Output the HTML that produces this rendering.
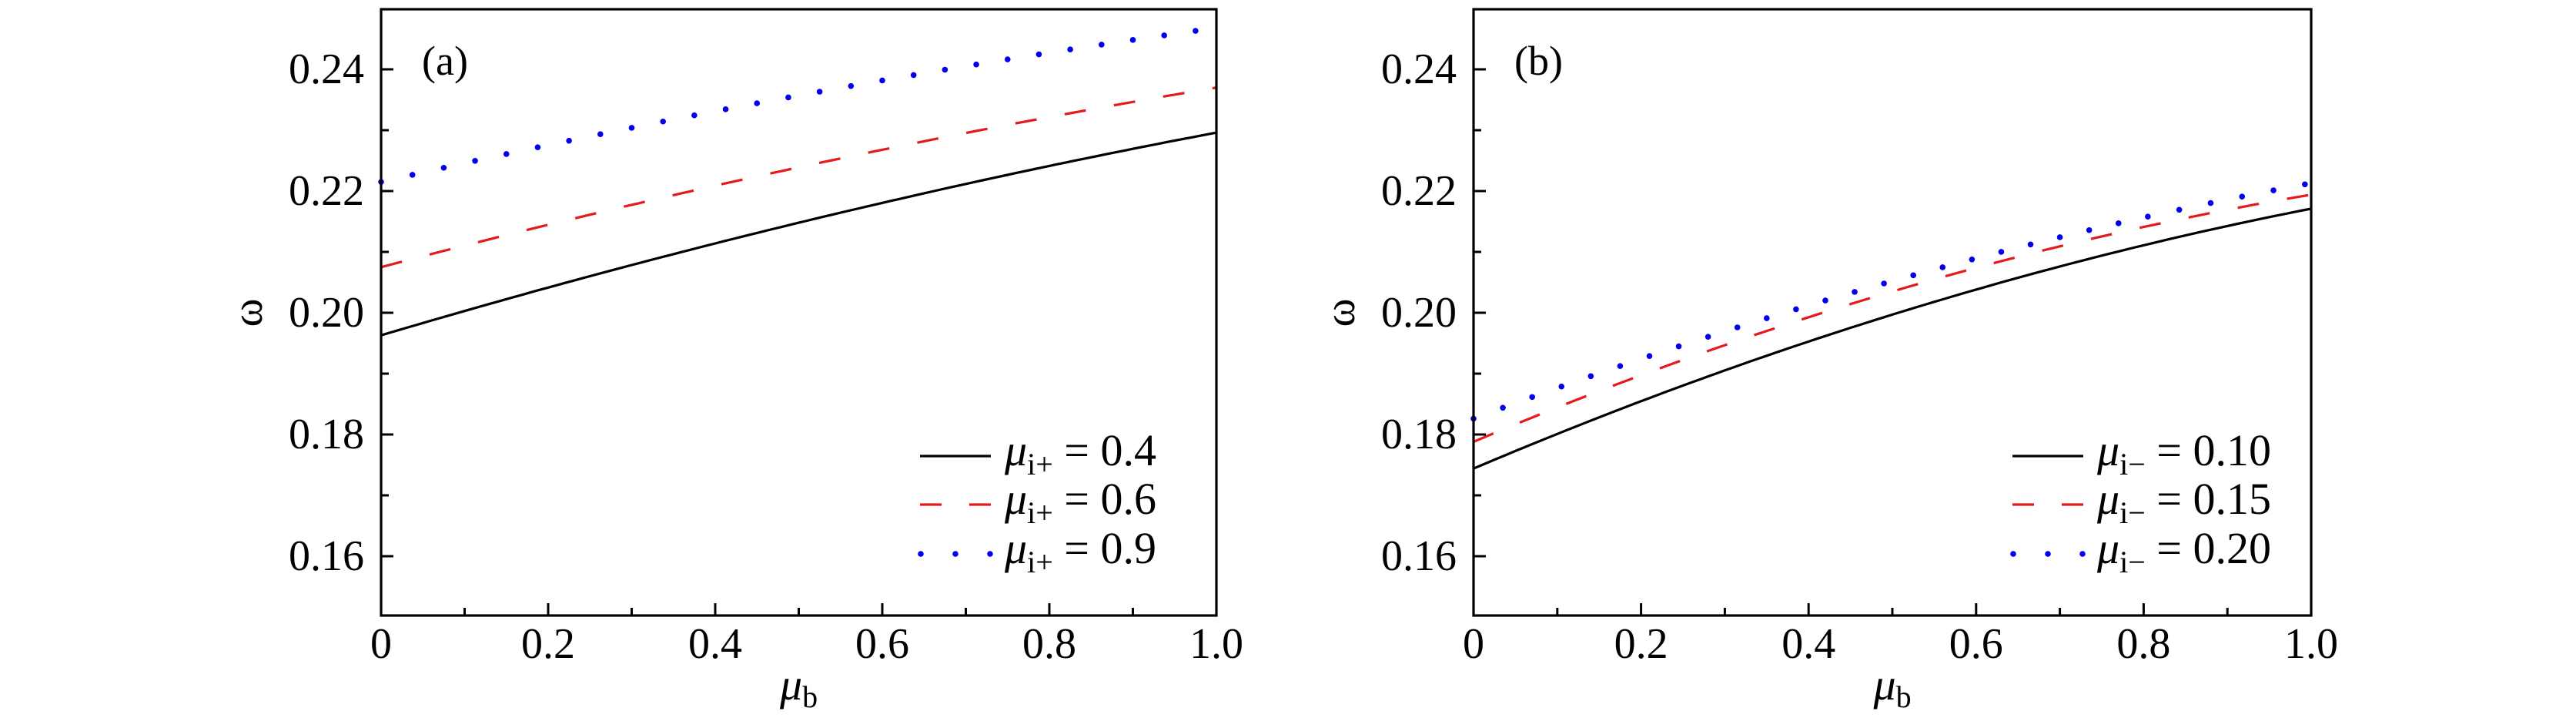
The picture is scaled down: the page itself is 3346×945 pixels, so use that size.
<!DOCTYPE html>
<html><head><meta charset="utf-8"><style>
html,body{margin:0;padding:0;background:#fff;}
svg{display:block;}
text{font-family:"Liberation Serif","DejaVu Serif",serif;fill:#000;}
</style></head><body>
<svg id="s" width="3346" height="945" viewBox="0 0 3346 945" xmlns="http://www.w3.org/2000/svg"></svg>
<script>
const s=document.getElementById('s');let h='';
const Y=v=>90+(0.24-v)*7900;
function panel(x0,x1,label,series,leg){
  const X=t=>x0+t*(x1-x0);
  series.forEach(([v0,vm,v1,col,style])=>{
    const c=2*(v0+v1-2*vm), b=v1-v0-c;
    const f=t=>v0+b*t+c*t*t;
    if(style==='dot'){
      let pts=[],N=400;for(let i=0;i<=N;i++){const t=i/N;pts.push([X(t),Y(f(t))]);}
      let acc=0;h+=`<circle cx="${pts[0][0]}" cy="${pts[0][1]}" r="3.8" fill="${col}"/>`;
      for(let i=1;i<pts.length;i++){const d=Math.hypot(pts[i][0]-pts[i-1][0],pts[i][1]-pts[i-1][1]);acc+=d;if(acc>=39){acc=0;h+=`<circle cx="${pts[i][0]}" cy="${pts[i][1]}" r="3.8" fill="${col}"/>`;}}
    } else {
      let d='';for(let i=0;i<=100;i++){const t=i/100;d+=(i?'L':'M')+X(t).toFixed(1)+' '+Y(f(t)).toFixed(1);}
      h+=`<path d="${d}" fill="none" stroke="${col}" stroke-width="3.2" ${style==='dash'?'stroke-dasharray="28 37"':''}/>`;
    }
  });
  h+=`<rect x="${x0}" y="12" width="${x1-x0}" height="787" fill="none" stroke="#000" stroke-width="3.2"/>`;
  for(let k=1;k<=9;k++){const v=0.15+k*0.01;const y=Y(v);const major=(k%2==1);
    h+=`<line x1="${x0}" x2="${x0+(major?16:10)}" y1="${y}" y2="${y}" stroke="#000" stroke-width="3"/>`;
    if(major)h+=`<text x="${x0-22}" y="${y+18}" font-size="56" text-anchor="end">${v.toFixed(2)}</text>`;}
  for(let k=0;k<=10;k++){const x=X(k/10);const major=k%2==0;
    if(k>0&&k<10)h+=`<line x1="${x}" x2="${x}" y1="799" y2="${799-(major?16:10)}" stroke="#000" stroke-width="3"/>`;
    if(major)h+=`<text x="${x}" y="854" font-size="56" text-anchor="middle">${k==0?'0':k==10?'1.0':(k/10).toFixed(1)}</text>`;}
  h+=`<text x="${(x0+x1)/2}" y="908" font-size="58" text-anchor="middle"><tspan font-style="italic">μ</tspan><tspan font-size="40" dy="10">b</tspan></text>`;
  h+=`<text transform="translate(${x0-168},406) rotate(-90)" font-size="56" text-anchor="middle" dominant-baseline="middle">ω</text>`;
  h+=`<text x="${x0+53}" y="97" font-size="54">${label}</text>`;
  const lx=x0+700, rows=[592,655,719];
  leg.forEach((L,i)=>{const y=rows[i];const [col,style,sub,val]=L;
    if(style==='dot'){[0,45,90].forEach(d=>h+=`<circle cx="${lx+d+1}" cy="${y}" r="3.8" fill="${col}"/>`);}
    else h+=`<line x1="${lx}" x2="${lx+92}" y1="${y}" y2="${y}" stroke="${col}" stroke-width="3.2" ${style==='dash'?'stroke-dasharray="28 36"':''}/>`;
    h+=`<text x="${lx+110}" y="${y+12}" font-size="58"><tspan font-style="italic">μ</tspan><tspan font-size="40" dy="12">${sub}</tspan><tspan dy="-12"> = ${val}</tspan></text>`;
  });
}
panel(495,1580,'(a)',[[0.1963,0.2148,0.2296,'#000','solid'],[0.2075,0.2239,0.237,'#e41a1c','dash'],[0.2215,0.2357,0.2468,'#0000ee','dot']],
 [['#000','solid','i+','0.4'],['#e41a1c','dash','i+','0.6'],['#0000ee','dot','i+','0.9']]);
panel(1914,3002,'(b)',[[0.1744,0.1997,0.2171,'#000','solid'],[0.1788,0.2035,0.2194,'#e41a1c','dash'],[0.1826,0.2052,0.2213,'#0000ee','dot']],
 [['#000','solid','i−','0.10'],['#e41a1c','dash','i−','0.15'],['#0000ee','dot','i−','0.20']]);
s.innerHTML=h;
</script>
</body></html>
